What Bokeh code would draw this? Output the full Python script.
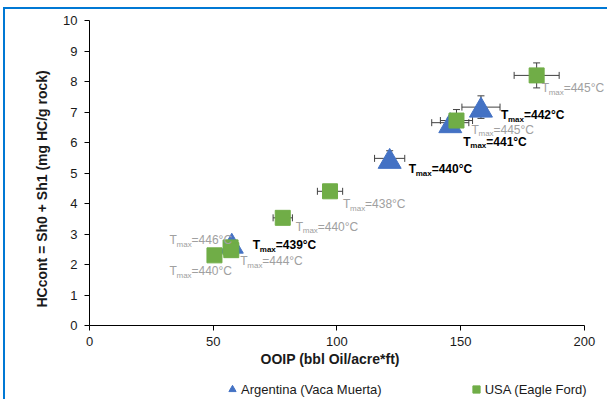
from bokeh.plotting import figure
from bokeh.layouts import column
from bokeh.models import (ColumnDataSource, Whisker, TeeHead, Legend, LegendItem,
                          FixedTicker, Title, Range1d)
from bokeh.transform import dodge
from bokeh.core.properties import value
from bokeh.embed import file_html
from bokeh.resources import INLINE

# ---- data ----
arg_ooip = [121.3, 145.8, 158.2, 57.5]
arg_hc = [5.48, 6.65, 7.16, 2.70]
arg_ooip_err = [6.1, 7.5, 7.7, 2.0]
arg_hc_err = [0.25, 0.15, 0.37, 0.10]
arg_tmax = ["=440°C", "=441°C", "=442°C", "=439°C"]

usa_ooip = [180.7, 148.3, 97.2, 78.1, 57.0, 57.3, 50.5]
usa_hc = [8.20, 6.72, 4.40, 3.53, 2.56, 2.47, 2.30]
usa_ooip_err = [9.1, 6.5, 5.1, 3.9, 2.0, 2.0, 2.0]
usa_hc_err = [0.41, 0.36, 0.08, 0.08, 0.08, 0.08, 0.08]
usa_tmax = ["=445°C", "=445°C", "=438°C", "=440°C", "=446°C", "=444°C", "=440°C"]

x_ticks = [0, 50, 100, 150, 200]
y_ticks = list(range(0, 11))
X_MAX = 200
Y_MAX = 10
x_title = "OOIP (bbl Oil/acre*ft)"
y_title = "HCcont = Sh0 + Sh1 (mg HC/g rock)"
series_names = ["Argentina (Vaca Muerta)", "USA (Eagle Ford)"]

# ---- label placement (screen px offsets, style only) ----
arg_dx = [19, 13, 20, 21]
arg_dy = [11, 19, 8, 2]
usa_dx = [5, 15, 13, 13, -61, 9, -45]
usa_dy = [13, 9, 13, 9, -7, 11, 16]

BLUE = "#4472C4"
GREEN = "#70AD47"
ERR = "#404040"
TXT = "#1a1a1a"
FONT = "Liberation Sans"
FRAME_BLUE = "#0078D4"

AXIS_PX = 493          # pixel length of the 0..200 axis
FRAME_W = 518          # frame extends a little past 200 so labels are not clipped

p = figure(frame_width=FRAME_W, frame_height=303,
           x_range=(0, X_MAX * FRAME_W / AXIS_PX), y_range=(0, Y_MAX),
           output_backend="svg", toolbar_location=None,
           min_border_left=84, min_border_right=0, min_border_top=11,
           min_border_bottom=56)
p.styles = {"border-left": f"2px solid {FRAME_BLUE}", "border-top": f"2px solid {FRAME_BLUE}",
            "margin-left": "3px", "margin-top": "7px"}
p.outline_line_color = None
p.xgrid.grid_line_color = None
p.ygrid.grid_line_color = None

for ax in (p.xaxis, p.yaxis):
    ax.axis_line_color = "#000000"
    ax.major_tick_line_color = "#000000"
    ax.minor_tick_line_color = None
    ax.major_tick_in = 0
    ax.major_tick_out = 5
    ax.major_label_text_font = FONT
    ax.major_label_text_font_size = "13px"
    ax.major_label_text_color = TXT

p.xaxis.bounds = (0, X_MAX)
p.xaxis.ticker = FixedTicker(ticks=x_ticks)
p.yaxis.ticker = FixedTicker(ticks=y_ticks)
p.xaxis.major_label_standoff = 6
p.yaxis.major_label_standoff = 7

# axis titles as Titles so they can be placed like the reference
p.add_layout(Title(text=x_title, align="left", offset=171, standoff=0,
                   text_font=FONT, text_font_size="14px", text_font_style="bold",
                   text_color=TXT), "below")
p.add_layout(Title(text=y_title, align="left", offset=18, standoff=22,
                   text_font=FONT, text_font_size="14px", text_font_style="bold",
                   text_color=TXT), "left")


def add_series(xs, ys, xe, ye, color, marker, size, ydodge):
    src = ColumnDataSource(dict(
        x=xs, y=ys,
        xl=[a - b for a, b in zip(xs, xe)], xu=[a + b for a, b in zip(xs, xe)],
        yl=[a - b for a, b in zip(ys, ye)], yu=[a + b for a, b in zip(ys, ye)],
    ))
    for dim, base, lo, up in (("width", "y", "xl", "xu"), ("height", "x", "yl", "yu")):
        w = Whisker(source=src, base=base, lower=lo, upper=up, dimension=dim,
                    line_color=ERR, line_width=1, level="underlay",
                    lower_head=TeeHead(size=7, line_color=ERR, line_width=1),
                    upper_head=TeeHead(size=7, line_color=ERR, line_width=1))
        p.add_layout(w)
    r = p.scatter(x="x", y=dodge("y", ydodge, range=p.y_range), source=src,
                  marker=marker, size=size, fill_color=color, line_color=color)
    return r


add_series(arg_ooip, arg_hc, arg_ooip_err, arg_hc_err, BLUE, "triangle", 23, -0.11)
add_series(usa_ooip, usa_hc, usa_ooip_err, usa_hc_err, GREEN, "square", 15, 0.0)


def add_labels(xs, ys, rest, dxs, dys, color, style, wmax):
    n = len(xs)
    s = ColumnDataSource(dict(
        x=xs, y=ys, t=["T"] * n, m=["max"] * n, r=rest,
        dx=dxs, dy=dys,
        mdx=[d + 7 for d in dxs], mdy=[d + 4 for d in dys],
        rdx=[d + 7 + wmax for d in dxs],
    ))
    common = dict(source=s, text_font=value(FONT), text_color=color,
                  text_font_style=style, text_baseline="middle", text_align="left")
    p.text(x="x", y="y", text="t", x_offset="dx", y_offset="dy",
           text_font_size="12px", **common)
    p.text(x="x", y="y", text="m", x_offset="mdx", y_offset="mdy",
           text_font_size="8px", **common)
    p.text(x="x", y="y", text="r", x_offset="rdx", y_offset="dy",
           text_font_size="12px", **common)


add_labels(arg_ooip, arg_hc, arg_tmax, arg_dx, arg_dy, "#000000", "bold", 16)
add_labels(usa_ooip, usa_hc, usa_tmax, usa_dx, usa_dy, "#A0A0A0", "normal", 15)

# ---- legend strip below the chart (its own small figure so it is never clipped) ----
lf = figure(width=600, height=20, x_range=Range1d(-2, -1), y_range=Range1d(-2, -1),
            x_axis_location=None, y_axis_location=None,
            output_backend="svg", toolbar_location=None,
            min_border=0)
lf.styles = {"border-left": f"2px solid {FRAME_BLUE}", "margin-left": "3px"}
lf.outline_line_color = None
lf.xgrid.grid_line_color = None
lf.ygrid.grid_line_color = None
lr_arg = lf.scatter(arg_ooip, arg_hc, marker="triangle", size=8,
                    fill_color=BLUE, line_color=BLUE)
lr_usa = lf.scatter(usa_ooip, usa_hc, marker="square", size=8,
                    fill_color=GREEN, line_color=GREEN)

legend = Legend(items=[LegendItem(label=series_names[0], renderers=[lr_arg]),
                       LegendItem(label=series_names[1], renderers=[lr_usa])],
                orientation="horizontal", location=(134, 0),
                glyph_width=18, glyph_height=20, label_height=20,
                label_standoff=0, spacing=85, padding=0, margin=0,
                border_line_color=None, background_fill_alpha=0,
                label_text_font=FONT, label_text_font_size="13px",
                label_text_color=TXT)
lf.add_layout(legend, "center")

layout = column(p, lf, spacing=0)
open("out.html", "w").write(file_html(layout, INLINE))
